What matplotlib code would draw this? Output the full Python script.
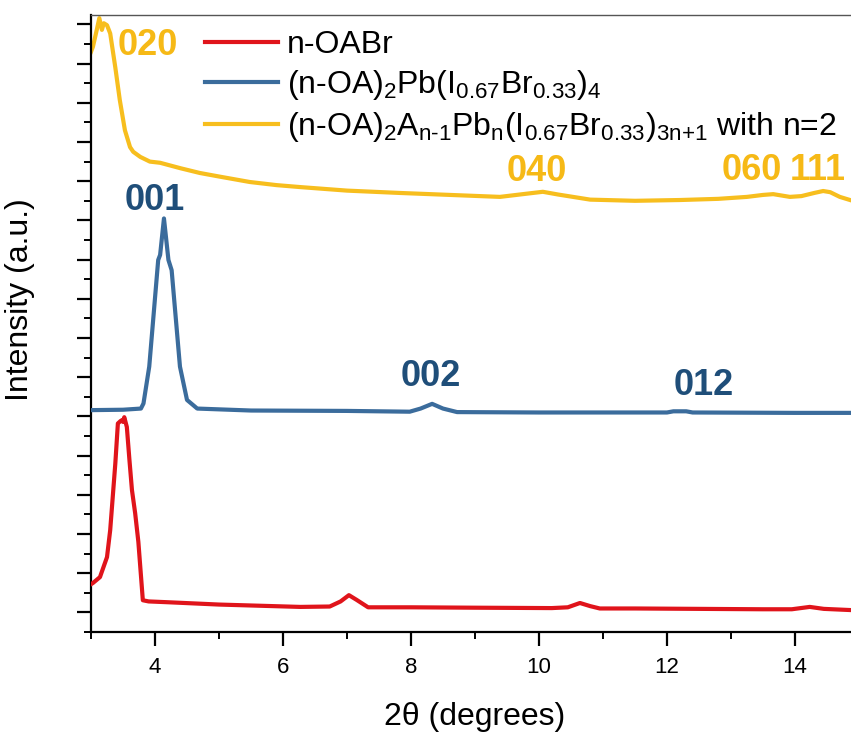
import matplotlib
matplotlib.use("Agg")
import matplotlib.pyplot as plt
from matplotlib.ticker import MultipleLocator

plt.rcParams['font.family'] = ['Liberation Sans', 'DejaVu Sans']
plt.rcParams['mathtext.fontset'] = 'custom'
plt.rcParams['mathtext.rm'] = 'Liberation Sans'
plt.rcParams['mathtext.it'] = 'Liberation Sans:italic'
plt.rcParams['mathtext.bf'] = 'Liberation Sans:bold'

# ---- data ----
red_x = [3.0, 3.03, 3.14, 3.25, 3.30, 3.38, 3.42, 3.46, 3.48, 3.50, 3.52, 3.56, 3.60, 3.64,
         3.69, 3.74, 3.77, 3.81, 3.9, 4.19, 5.0, 6.27, 6.73, 6.9, 7.03, 7.15, 7.33, 8.0, 9.0,
         10.2, 10.45, 10.64, 10.8, 10.95, 11.5, 12.5, 13.5, 13.95, 14.23, 14.45, 15.0]
red_y = [0.72, 0.75, 0.9, 1.41, 2.1, 3.8, 4.82, 4.88, 4.9, 4.86, 4.98, 4.73, 3.9, 3.12,
         2.53, 1.8, 1.16, 0.31, 0.28, 0.26, 0.2, 0.14, 0.15, 0.28, 0.44, 0.32, 0.13, 0.13, 0.12,
         0.11, 0.13, 0.24, 0.16, 0.1, 0.1, 0.09, 0.08, 0.08, 0.14, 0.09, 0.05]

blue_x = [3.0, 3.5, 3.78, 3.82, 3.91, 4.05, 4.08, 4.14, 4.21, 4.26, 4.39, 4.5, 4.66, 5.5,
          7.0, 7.98, 8.15, 8.33, 8.5, 8.72, 10.0, 12.0, 12.1, 12.3, 12.4, 14.0, 15.0]
blue_y = [5.16, 5.17, 5.2, 5.33, 6.27, 8.99, 9.12, 10.05, 8.99, 8.73, 6.27, 5.42, 5.2, 5.15,
          5.14, 5.12, 5.2, 5.32, 5.2, 5.11, 5.1, 5.1, 5.13, 5.13, 5.1, 5.09, 5.09]

yellow_x = [3.0, 3.03, 3.09, 3.13, 3.17, 3.20, 3.25, 3.30, 3.38, 3.45, 3.53, 3.61, 3.66, 3.77,
            3.92, 4.08, 4.4, 4.7, 5.0, 5.48, 5.9, 6.27, 7.0, 7.83, 8.61, 9.39, 9.8, 10.06, 10.3,
            10.8, 11.5, 12.2, 12.8, 13.25, 13.5, 13.66, 13.92, 14.1, 14.3, 14.44, 14.55, 14.7,
            14.86, 15.0]
yellow_y = [14.3, 14.43, 14.86, 15.16, 14.86, 15.03, 14.98, 14.77, 13.9, 13.07, 12.3, 11.87,
            11.75, 11.62, 11.5, 11.47, 11.33, 11.21, 11.12, 10.98, 10.9, 10.85, 10.76, 10.7,
            10.65, 10.6, 10.68, 10.73, 10.66, 10.53, 10.5, 10.52, 10.55, 10.6, 10.65, 10.67,
            10.6, 10.62, 10.7, 10.75, 10.72, 10.6, 10.52, 10.45]

series_labels = [
    'n-OABr',
    r'(n-OA)$_\mathregular{2}$Pb(I$_\mathregular{0.67}$Br$_\mathregular{0.33}$)$_\mathregular{4}$',
    r'(n-OA)$_\mathregular{2}$A$_\mathregular{n\text{-}1}$Pb$_\mathregular{n}$(I$_\mathregular{0.67}$Br$_\mathregular{0.33}$)$_\mathregular{3n{+}1}$ with n=2',
]

peak_texts = ['020', '040', '060', '111', '001', '002', '012']
peak_x = [3.89, 9.97, 13.33, 14.36, 4.0, 8.31, 12.58]
peak_y = [14.47, 11.26, 11.28, 11.28, 10.52, 6.03, 5.8]
peak_group = ['y', 'y', 'y', 'y', 'b', 'b', 'b']

RED = '#E0141B'
BLUE = '#3B6C9C'
YEL = '#F7BE1E'
BLUE_TXT = '#1F4E79'
YEL_TXT = '#F6B916'

fig = plt.figure(figsize=(8.51, 7.33), dpi=100)
ax = fig.add_axes([91 / 851, 101 / 733, 768 / 851, 617 / 733])

ax.plot(yellow_x, yellow_y, color=YEL, lw=3.0, label=series_labels[2], zorder=2)
ax.plot(blue_x, blue_y, color=BLUE, lw=3.0, label=series_labels[1], zorder=3)
ax.plot(red_x, red_y, color=RED, lw=3.0, label=series_labels[0], zorder=4)

for t, x, y, g in zip(peak_texts, peak_x, peak_y, peak_group):
    ax.text(x, y, t, color=YEL_TXT if g == 'y' else BLUE_TXT, fontsize=26,
            fontweight='bold', ha='center', va='center')

ax.set_xlim(3, 15)
ax.set_ylim(-0.5, 15.24)
ax.xaxis.set_major_locator(MultipleLocator(2))
ax.xaxis.set_minor_locator(MultipleLocator(1))
ax.yaxis.set_major_locator(MultipleLocator(1))
ax.yaxis.set_minor_locator(MultipleLocator(0.5))
ax.tick_params(which='major', direction='out', length=10, width=1.6, labelsize=16, pad=8)
ax.tick_params(which='minor', direction='out', length=5, width=1.4)
ax.tick_params(axis='y', which='both', labelleft=False)
for s in ['left', 'bottom']:
    ax.spines[s].set_linewidth(1.6)
ax.spines['top'].set_linewidth(1.0)
ax.spines['top'].set_color('#555555')

ax.set_xlabel('2θ (degrees)', fontsize=23, labelpad=17)
ax.set_ylabel('Intensity (a.u.)', fontsize=23)
ax.yaxis.set_label_coords(-0.073, 0.538)

handles, labels = ax.get_legend_handles_labels()
order = [2, 1, 0]
ax.legend([handles[i] for i in order], [labels[i] for i in order],
          loc='upper left', bbox_to_anchor=(0.148, 0.975), frameon=False,
          fontsize=23, handlelength=2.3, handletextpad=0.28, labelspacing=0.25,
          borderpad=0, borderaxespad=0)

fig.savefig('out.png', dpi=100)
